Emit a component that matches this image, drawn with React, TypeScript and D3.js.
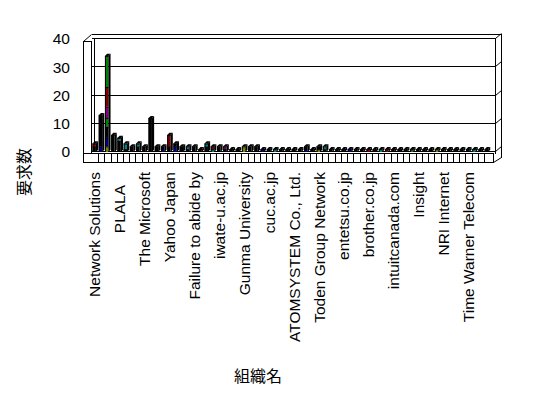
import React from "react";
import * as d3 from "d3";

// ---- data ----
const yTicks = [0, 10, 20, 30, 40];
const categoryCount = 64;
const labelStep = 4;
const categoryLabels = [
  "Network Solutions",
  "PLALA\u00a0\u00a0\u00a0",
  "The Microsoft",
  "Yahoo Japan",
  "Failure to abide by",
  "iwate-u.ac.jp",
  "Gunma University",
  "cuc.ac.jp",
  "ATOMSYSTEM Co., Ltd.",
  "Toden Group Network",
  "entetsu.co.jp",
  "brother.co.jp",
  "intuitcanada.com",
  "Insight",
  "NRI Internet",
  "Time Warner Telecom",
];
const yTitle = "要求数";
const xTitle = "組織名";

const seriesOlive = [
  0,0,2,0,0,0,0,0, 0,0,0,0,0,0,0,0, 0,0,0,0,0,0,0,0, 2,0,0,0,0,0,0,0,
  0,0,0,0,1,0,0,0, 0,0,0,0,0,0,0,0, 0,0,0,0,0,0,0,1, 0,0,0,0,0,0,0,0,
];
const seriesNavy = [
  0,2,3,0,0,0,0,0, 0,0,0,1,0,2,0,0, 0,0,0,0,0,0,0,0, 0,0,0,1,0,0,0,0,
  0,0,1,0,0,0,0,0, 0,1,0,0,0,0,0,0, 0,0,0,0,0,0,0,0, 0,0,0,0,0,0,0,0,
];
const seriesBlack = [
  2,11,4,6,4,1,2,2, 2,12,2,1,2,1,2,1, 2,1,2,0,2,1,1,1, 0,2,2,0,1,0,1,1,
  1,1,1,1,1,1,1,1, 1,0,1,1,0,1,0,0, 1,1,1,0,1,1,1,0, 1,1,1,1,1,0,1,1,
];
const seriesTeal = [
  0,0,0,0,1,2,0,1, 0,0,0,0,0,0,0,1, 0,0,1,1,0,0,0,0, 0,0,0,0,0,1,0,0,
  0,0,0,0,0,1,0,0, 0,0,0,0,0,0,1,0, 0,0,0,0,0,0,0,0, 0,0,0,0,0,1,0,0,
];
const seriesGreen = [
  0,0,3,0,0,0,0,0, 0,0,0,0,0,0,0,0, 0,0,0,0,0,0,0,0, 0,0,0,0,0,0,0,0,
  0,0,0,0,0,0,0,0, 0,0,0,0,0,0,0,0, 0,0,0,1,0,0,0,0, 0,0,0,0,0,0,0,0,
];
const seriesPurple = [
  0,0,4,0,0,0,0,0, 0,0,0,0,0,0,0,0, 0,0,0,0,0,1,0,0, 0,0,0,0,0,0,0,0,
  0,0,0,0,0,0,0,0, 0,0,0,0,0,0,0,0, 0,0,0,0,0,0,0,0, 0,0,0,0,0,0,0,0,
];
const seriesDarkRed = [
  1,0,7,0,0,0,0,0, 0,0,0,0,4,0,0,0, 0,0,0,1,0,0,0,0, 0,0,0,0,0,0,0,0,
  0,0,0,0,0,0,0,0, 0,0,0,0,1,0,0,1, 0,0,0,0,0,0,0,0, 0,0,0,0,0,0,0,0,
];
const seriesLime = [
  0,0,11,0,0,0,0,0, 0,0,0,0,0,0,0,0, 0,0,0,0,0,0,0,0, 0,0,0,0,0,0,0,0,
  0,0,0,0,0,0,0,0, 0,0,0,0,0,0,0,0, 0,0,0,0,0,0,0,0, 0,0,0,0,0,0,0,0,
];
const seriesKeys = ["olive", "navy", "black", "teal", "green", "purple", "darkred", "lime"];
const seriesValues = [seriesOlive, seriesNavy, seriesBlack, seriesTeal, seriesGreen, seriesPurple, seriesDarkRed, seriesLime];
const seriesColors = ["#808000", "#000080", "#000000", "#008080", "#008000", "#800080", "#800000", "#008000"];

const FONT = "'Liberation Sans', Arial, sans-serif";
const JFONT = "'Noto Sans CJK JP', sans-serif";

export default function App() {
  const x = d3.scaleBand<number>().domain(d3.range(categoryCount)).range([91.9, 490.3]);
  const y = d3.scaleLinear().domain([0, 40]).range([152, 39]);
  const bw = x.bandwidth();

  const rows = d3.range(categoryCount).map((i) => {
    const r: Record<string, number> = {};
    seriesKeys.forEach((k, s) => (r[k] = seriesValues[s][i]));
    return r;
  });
  const stacked = d3.stack<Record<string, number>>().keys(seriesKeys)(rows);

  const ddx = 2.2, ddy = 2.2;
  const bars: React.ReactNode[] = [];
  d3.range(categoryCount).forEach((i) => {
    const x0 = x(i)!;
    const total = stacked[stacked.length - 1][i][1];
    if (total <= 0) return;
    const yTop = y(total), yBot = y(0);
    const fx = x0 + 0.6, fw = 3.4;
    stacked.forEach((layer, s) => {
      const [a, b] = layer[i];
      if (b > a) {
        bars.push(
          <rect key={`f${i}-${s}`} x={fx} y={y(b)} width={fw} height={y(a) - y(b)} fill={seriesColors[s]} />
        );
        bars.push(
          <line key={`l${i}-${s}`} x1={fx} x2={fx + fw} y1={y(b) + 0.5} y2={y(b) + 0.5} stroke="#000" strokeWidth={1} />
        );
      }
    });
    bars.push(
      <line key={`e${i}`} x1={fx + 0.5} x2={fx + 0.5} y1={yTop} y2={yBot} stroke="#000" strokeWidth={1} />
    );
    bars.push(
      <polygon key={`s${i}`} fill="#000"
        points={`${fx + fw},${yBot} ${fx + fw},${yTop} ${fx + fw + ddx},${yTop - ddy} ${fx + fw + ddx},${yBot - ddy}`} />
    );
    bars.push(
      <polygon key={`t${i}`} fill="#000"
        points={`${fx},${yTop} ${fx + ddx},${yTop - ddy} ${fx + fw + ddx},${yTop - ddy} ${fx + fw},${yTop}`} />
    );
  });

  const gy = (v: number) => Math.round(y(v)) - 0.5;

  return (
    <svg width={548} height={398} style={{ position: "absolute", left: 0, top: 0, background: "#fff" }}>
      <rect width={548} height={398} fill="#fff" />
      <g fill="none" stroke="#000" strokeWidth={1} shapeRendering="crispEdges">
        {yTicks.map((v) => (
          <g key={v}>
            <line x1={91.5} x2={495.5} y1={gy(v)} y2={gy(v)} />
          </g>
        ))}
        <path d="M83.5,162.5 V41.5 H91.5 V153" />
        <path d="M94.5,39 V152" />
        <path d="M495.5,39 V153.5" />
        <path d="M501.5,34.5 V157.5" />
        <path d="M91.5,34.5 H501.5" />
        <rect x={83.5} y={153.5} width={410} height={9} />
        {d3.range(1, categoryCount).map((i) => (
          <line key={i} x1={Math.round(x(i)!) + 0.5} x2={Math.round(x(i)!) + 0.5} y1={153.5} y2={162.5} />
        ))}
      </g>
      <g fill="none" stroke="#000" strokeWidth={1}>
        <line x1={83.5} y1={41.5} x2={91.5} y2={34.5} />
        {yTicks.map((v) => (
          <line key={v} x1={495.5} y1={gy(v)} x2={501.5} y2={gy(v) - 5} />
        ))}
        <line x1={501.5} y1={157.5} x2={493.5} y2={162.5} />
      </g>
      <g>{bars}</g>
      <g fontFamily={FONT} fontSize={15.5} fill="#000">
        {yTicks.map((v) => (
          <text key={v} x={70} y={y(v)} dy="0.35em" textAnchor="end">{v}</text>
        ))}
        {categoryLabels.map((lab, j) => {
          const cx = x(j * labelStep)! + bw / 2;
          return (
            <text key={j} transform={`translate(${cx},172) rotate(-90)`} dy="0.35em" textAnchor="end" style={{ whiteSpace: "pre" }}>
              {lab}
            </text>
          );
        })}
      </g>
      <text transform="translate(24,172) rotate(-90)" dy="0.35em" textAnchor="middle" fontFamily={JFONT} fontSize={16}>{yTitle}</text>
      <text x={258} y={376} dy="0.35em" textAnchor="middle" fontFamily={JFONT} fontSize={16}>{xTitle}</text>
    </svg>
  );
}
